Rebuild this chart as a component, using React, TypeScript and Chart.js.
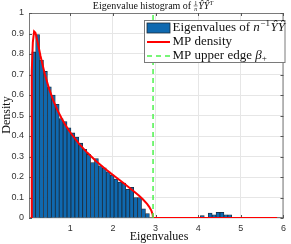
import React, { useEffect, useRef } from 'react';
import { Chart, registerables } from 'chart.js';

Chart.register(...registerables);

// Histogram bins (centres) and densities
const binCenters = [
  0.140, 0.232, 0.324, 0.416, 0.508, 0.600, 0.692, 0.784, 0.876, 0.968,
  1.060, 1.152, 1.244, 1.336, 1.428, 1.520, 1.612, 1.704, 1.796, 1.888,
  1.980, 2.072, 2.164, 2.256, 2.348, 2.440, 2.532, 2.624, 2.716, 2.808,
  4.096, 4.280, 4.372, 4.464, 4.556, 4.648, 4.740,
];
const binDensity = [
  0.81, 0.895, 0.77, 0.715, 0.64, 0.60, 0.555, 0.485, 0.47, 0.44,
  0.415, 0.395, 0.365, 0.335, 0.31, 0.27, 0.29, 0.255, 0.245, 0.225,
  0.21, 0.19, 0.175, 0.17, 0.14, 0.15, 0.10, 0.10, 0.045, 0.022,
  0.012, 0.024, 0.016, 0.028, 0.028, 0.016, 0.016,
];

// MP density curve points
const mpX = [
  0.0815, 0.09, 0.10, 0.12, 0.15, 0.18, 0.20, 0.25, 0.30, 0.40, 0.50, 0.60,
  0.70, 0.80, 0.90, 1.00, 1.20, 1.40, 1.60, 1.80, 2.00, 2.20, 2.40, 2.60,
  2.70, 2.80, 2.85, 2.90, 2.93, 2.94, 5.85,
];
const mpY = [
  0, 0.54, 0.715, 0.857, 0.91, 0.904, 0.889, 0.84, 0.79, 0.702, 0.631, 0.573,
  0.525, 0.484, 0.448, 0.417, 0.363, 0.318, 0.278, 0.243, 0.21, 0.178, 0.1455, 0.111,
  0.0916, 0.0688, 0.0547, 0.0361, 0.018, 0, 0,
];

// MP upper edge
const edgeX = [2.94, 2.94];
const edgeY = [0, 1];

const xTicks = [1, 2, 3, 4, 5, 6];
const yTicks = [0, 0.1, 0.2, 0.3, 0.4, 0.5, 0.6, 0.7, 0.8, 0.9, 1];
const yTickLabels = ['0', '0.1', '0.2', '0.3', '0.4', '0.5', '0.6', '0.7', '0.8', '0.9', '1'];

const SERIF = '"Liberation Serif", "Times New Roman", serif';
const SANS = '"Liberation Sans", Arial, sans-serif';

const overlayPlugin = {
  id: 'overlay',
  beforeDatasetsDraw(chart: any) {
    const { ctx, chartArea: a, scales } = chart;
    ctx.save();
    ctx.strokeStyle = '#7a7a7a';
    ctx.lineWidth = 1;
    ctx.strokeRect(a.left + 0.5, a.top + 0.5, a.right - a.left - 1, a.bottom - a.top - 1);
    ctx.strokeStyle = '#555';
    ctx.beginPath();
    xTicks.forEach((v) => {
      const px = Math.round(scales.x.getPixelForValue(v)) + 0.5;
      ctx.moveTo(px, a.bottom);
      ctx.lineTo(px, a.bottom - 3);
      ctx.moveTo(px, a.top);
      ctx.lineTo(px, a.top + 3);
    });
    yTicks.forEach((v) => {
      const py = Math.round(scales.y.getPixelForValue(v)) + 0.5;
      ctx.moveTo(a.left, py);
      ctx.lineTo(a.left + 3, py);
      ctx.moveTo(a.right, py);
      ctx.lineTo(a.right - 3, py);
    });
    ctx.stroke();

    // y tick labels
    ctx.fillStyle = '#333';
    ctx.font = `9px ${SANS}`;
    ctx.textAlign = 'right';
    ctx.textBaseline = 'middle';
    yTicks.forEach((v, i) => {
      ctx.fillText(yTickLabels[i], a.left - 5, scales.y.getPixelForValue(v));
    });
    ctx.restore();
  },
  afterDraw(chart: any) {
    const { ctx } = chart;
    ctx.save();
    ctx.fillStyle = '#111';
    ctx.textBaseline = 'alphabetic';

    // ---- Title: Eigenvalue histogram of (1/n) Ŷ Ŷ^T
    const tFont = `10px ${SERIF}`;
    const tItal = `italic 10px ${SERIF}`;
    const tSmall = `6px ${SERIF}`;
    const tSmallIt = `italic 6px ${SERIF}`;
    ctx.font = tFont;
    const t1 = 'Eigenvalue histogram of ';
    const w1 = ctx.measureText(t1).width;
    ctx.font = tSmall;
    const wFrac = Math.max(ctx.measureText('1').width, ctx.measureText('n').width) + 1;
    ctx.font = tItal;
    const wY = ctx.measureText('ŶŶ').width;
    ctx.font = tSmallIt;
    const wT = ctx.measureText('T').width;
    const total = w1 + wFrac + wY + wT + 1;
    let tx = 153 - total / 2;
    const ty = 9;
    ctx.font = tFont;
    ctx.fillText(t1, tx, ty);
    tx += w1;
    ctx.font = tSmall;
    ctx.textAlign = 'center';
    ctx.fillText('1', tx + wFrac / 2, ty - 4);
    ctx.font = tSmallIt;
    ctx.fillText('n', tx + wFrac / 2, ty + 2);
    ctx.fillRect(tx, ty - 3.3, wFrac, 0.5);
    ctx.textAlign = 'left';
    tx += wFrac + 0.5;
    ctx.font = tItal;
    ctx.fillText('ŶŶ', tx, ty);
    tx += wY + 0.5;
    ctx.font = tSmallIt;
    ctx.fillText('T', tx, ty - 4);

    // ---- x label
    ctx.font = `12px ${SERIF}`;
    ctx.textAlign = 'center';
    ctx.fillText('Eigenvalues', 159, 240);

    // ---- y label
    ctx.save();
    ctx.translate(10, 115);
    ctx.rotate(-Math.PI / 2);
    ctx.fillText('Density', 0, 0);
    ctx.restore();

    // ---- legend
    const lx = 144, ly = 20, lw = 141.5, lh = 43;
    ctx.fillStyle = '#ffffff';
    ctx.fillRect(lx, ly, lw, lh);
    ctx.strokeStyle = '#7a7a7a';
    ctx.lineWidth = 1;
    ctx.strokeRect(lx + 0.5, ly + 0.5, lw - 1, lh - 1);

    const sx0 = 147, sx1 = 170, textX = 172.5;
    const rows = [28, 42, 56];
    ctx.fillStyle = '#0f69b0';
    ctx.fillRect(sx0, rows[0] - 5, sx1 - sx0, 10);
    ctx.strokeStyle = '#1b2b3b';
    ctx.lineWidth = 0.8;
    ctx.strokeRect(sx0, rows[0] - 5, sx1 - sx0, 10);
    ctx.strokeStyle = '#ff0000';
    ctx.lineWidth = 2;
    ctx.beginPath();
    ctx.moveTo(sx0, rows[1]);
    ctx.lineTo(sx1, rows[1]);
    ctx.stroke();
    ctx.strokeStyle = '#4cf24c';
    ctx.lineWidth = 1.5;
    ctx.setLineDash([5, 4]);
    ctx.beginPath();
    ctx.moveTo(sx0, rows[2]);
    ctx.lineTo(sx1, rows[2]);
    ctx.stroke();
    ctx.setLineDash([]);

    ctx.fillStyle = '#111';
    ctx.textAlign = 'left';
    ctx.textBaseline = 'middle';
    const lf = `13px ${SERIF}`;
    const lfi = `italic 13px ${SERIF}`;
    const ls = `9px ${SERIF}`;
    let x = textX;
    ctx.font = lf;
    const s1 = 'Eigenvalues of ';
    ctx.fillText(s1, x, rows[0]);
    x += ctx.measureText(s1).width;
    ctx.font = lfi;
    ctx.fillText('n', x, rows[0]);
    x += ctx.measureText('n').width + 0.5;
    ctx.font = ls;
    ctx.fillText('−1', x, rows[0] - 4.5);
    x += ctx.measureText('−1').width + 0.5;
    ctx.font = lfi;
    ctx.fillText('ŶŶ', x, rows[0]);

    ctx.font = lf;
    ctx.fillText('MP density', textX, rows[1]);

    x = textX;
    const s3 = 'MP upper edge ';
    ctx.fillText(s3, x, rows[2]);
    x += ctx.measureText(s3).width;
    ctx.font = lfi;
    ctx.fillText('β', x, rows[2]);
    x += ctx.measureText('β').width;
    ctx.font = ls;
    ctx.fillText('+', x, rows[2] + 3);

    ctx.restore();
  },
};

export default function App() {
  const ref = useRef<HTMLCanvasElement | null>(null);

  useEffect(() => {
    document.body.style.margin = '0';
    const canvas = ref.current;
    if (!canvas) return;
    const chart = new Chart(canvas, {
      type: 'bar',
      data: {
        datasets: [
          {
            type: 'line',
            label: 'MP upper edge',
            data: edgeX.map((x, i) => ({ x, y: edgeY[i] })),
            borderColor: '#4cf24c',
            borderWidth: 1.5,
            borderDash: [5, 4],
            pointRadius: 0,
            order: 1,
          } as any,
          {
            type: 'line',
            label: 'MP density',
            data: mpX.map((x, i) => ({ x, y: mpY[i] })),
            borderColor: '#ff0000',
            borderWidth: 2,
            pointRadius: 0,
            tension: 0,
            order: 2,
          } as any,
          {
            type: 'bar',
            label: 'Eigenvalues',
            data: binCenters.map((x, i) => ({ x, y: binDensity[i] })),
            backgroundColor: '#0f69b0',
            borderColor: '#1b2b3b',
            borderWidth: 0.8,
            barPercentage: 1,
            categoryPercentage: 1,
            order: 3,
          } as any,
        ],
      },
      options: {
        responsive: false,
        animation: false,
        devicePixelRatio: 1,
        layout: { padding: { top: 13, right: 3, left: 0, bottom: 0 } },
        plugins: {
          legend: { display: false },
          title: { display: false },
          tooltip: { enabled: false },
        },
        scales: {
          x: {
            type: 'linear',
            offset: false,
            min: 0.03,
            max: 6,
            afterBuildTicks: (s: any) => {
              s.ticks = xTicks.map((v) => ({ value: v }));
            },
            afterFit: (s: any) => {
              s.height = 26;
            },
            grid: { color: '#e6e6e6', drawTicks: false, lineWidth: 1, offset: false },
            border: { display: false },
            ticks: {
              font: { family: SANS, size: 9 },
              color: '#333',
              padding: 5,
              maxRotation: 0,
              autoSkip: false,
              callback: (v: any) => String(v),
            },
          },
          y: {
            type: 'linear',
            min: 0,
            max: 1,
            afterBuildTicks: (s: any) => {
              s.ticks = yTicks.map((v) => ({ value: v }));
            },
            afterFit: (s: any) => {
              s.width = 29;
            },
            grid: { color: '#e6e6e6', drawTicks: false, lineWidth: 1 },
            border: { display: false },
            ticks: { display: false },
          },
        },
      } as any,
      plugins: [overlayPlugin],
    });
    return () => chart.destroy();
  }, []);

  return (
    <div style={{ position: 'fixed', left: 0, top: 0, width: 291, height: 244, background: '#fff' }}>
      <canvas ref={ref} width={291} height={244} style={{ width: 291, height: 244, display: 'block' }} />
    </div>
  );
}
